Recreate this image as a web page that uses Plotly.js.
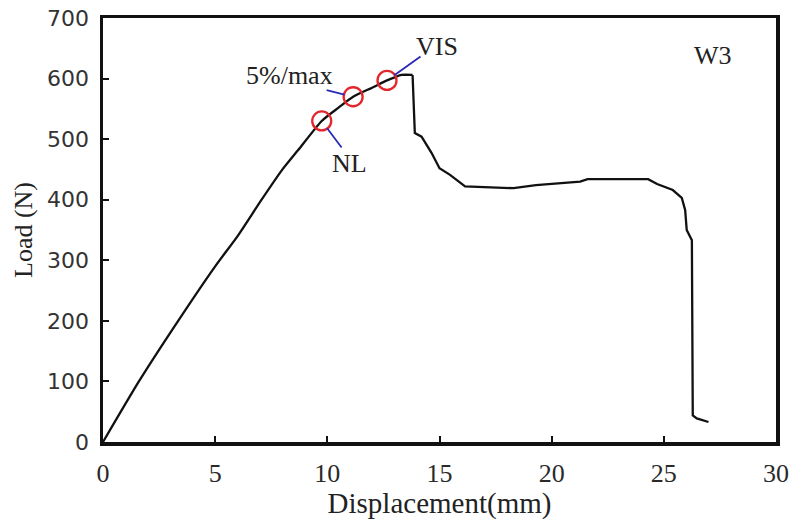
<!DOCTYPE html>
<html>
<head>
<meta charset="utf-8">
<script src="https://cdn.plot.ly/plotly-3.0.1.min.js"></script>
<style>html,body{margin:0;padding:0;background:#fff;}#chart{width:792px;height:520px;}</style>
</head>
<body>
<div id="chart"></div>
<script>
// Load–displacement curve (specimen W3)
var displacement = [0, 1.6, 3.35, 5.0, 6.0, 7.07, 8.0, 8.7, 9.75, 10.5, 11.15, 12.0, 12.66, 13.0, 13.3, 13.8, 13.9, 14.2, 14.65, 15.0, 15.47, 16.14, 16.8, 17.5, 18.3, 19.3, 20.4, 21.27, 21.6, 22.5, 23.5, 24.3, 24.7, 25.4, 25.8, 25.95, 26.02, 26.2, 26.25, 26.29, 26.47, 26.99];
var load = [0, 100, 200, 290, 340, 400, 450, 482, 530, 552, 570, 585, 597, 602, 606, 606, 510, 504, 477, 452, 441, 422, 421, 419, 419, 424, 428, 430, 434, 434, 434, 434, 426, 416, 403, 383, 350, 337, 333, 44, 39, 33];
var peakIndex = 15; // end of the smooth rising branch

// Characteristic points
var pointNames = ["NL", "5%/max", "VIS"];
var pointX = [9.75, 11.15, 12.66];
var pointY = [530, 570, 597];

var xTicks = [0, 5, 10, 15, 20, 25, 30];
var yTicks = [0, 100, 200, 300, 400, 500, 600, 700];
var specimenLabel = "W3";

var serif = "Liberation Serif, Times New Roman, serif";

var traces = [
  {x: displacement.slice(0, peakIndex + 1), y: load.slice(0, peakIndex + 1), type: "scatter", mode: "lines",
   line: {color: "#111", width: 2.3, shape: "spline", smoothing: 0.6}, hoverinfo: "skip", showlegend: false},
  {x: displacement.slice(peakIndex), y: load.slice(peakIndex), type: "scatter", mode: "lines",
   line: {color: "#111", width: 2.3}, hoverinfo: "skip", showlegend: false},
  {x: pointX, y: pointY, type: "scatter", mode: "markers",
   marker: {symbol: "circle-open", size: 19, color: "#e3262a", line: {width: 2.3, color: "#e3262a"}},
   hoverinfo: "skip", showlegend: false}
];

// leader-line and label offsets in pixels for each point
var leaderOff = [[21, 28], [-28, -7], [35, -25]];
var labelOff = [[28, -43], [-64, 21], [50, 34]];

var annotations = [];
for (var i = 0; i < pointNames.length; i++) {
  annotations.push({x: pointX[i], y: pointY[i], xref: "x", yref: "y", text: "",
    showarrow: true, arrowhead: 0, arrowwidth: 1.8, arrowcolor: "#2a2ab8",
    ax: leaderOff[i][0], ay: leaderOff[i][1], standoff: 9});
  annotations.push({x: pointX[i], y: pointY[i], xref: "x", yref: "y", text: pointNames[i],
    showarrow: false, xshift: labelOff[i][0], yshift: labelOff[i][1],
    font: {family: serif, size: 26, color: "#222"}});
}
annotations.push({x: 27.2, y: 638, xref: "x", yref: "y", text: specimenLabel, showarrow: false,
  font: {family: serif, size: 26, color: "#222"}});

var layout = {
  width: 792, height: 520,
  margin: {l: 103, r: 16, t: 18, b: 78, pad: 0},
  paper_bgcolor: "#fff", plot_bgcolor: "#fff",
  xaxis: {range: [0, 30], tickvals: xTicks, ticktext: xTicks.map(String),
    ticks: "inside", ticklen: 6, tickwidth: 2, tickcolor: "#111",
    showline: true, linecolor: "#111", linewidth: 3.5, mirror: true,
    showgrid: false, zeroline: false, ticklabelstandoff: 5,
    tickfont: {family: serif, size: 26, color: "#2a2a2a"},
    title: {text: "Displacement(mm)", font: {family: serif, size: 29, color: "#222"}, standoff: 4}},
  yaxis: {range: [0, 700], tickvals: yTicks, ticktext: yTicks.map(String),
    ticks: "inside", ticklen: 6, tickwidth: 2, tickcolor: "#111",
    showline: true, linecolor: "#111", linewidth: 3.5, mirror: true,
    showgrid: false, zeroline: false, ticklabelstandoff: 6,
    tickfont: {family: "DejaVu Sans, sans-serif", size: 22, color: "#333"},
    title: {text: "Load (N)", font: {family: serif, size: 26, color: "#222"}, standoff: 8}},
  annotations: annotations
};

Plotly.newPlot("chart", traces, layout, {staticPlot: true, displayModeBar: false});
</script>
</body>
</html>
